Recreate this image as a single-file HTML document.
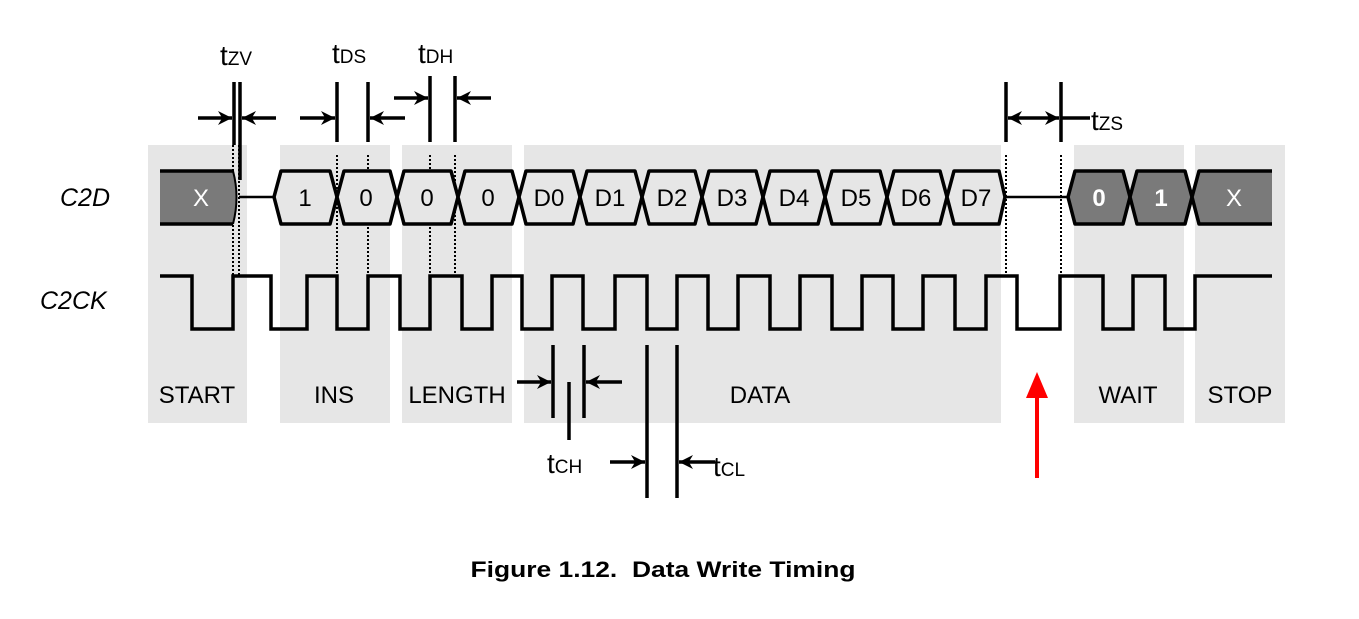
<!DOCTYPE html>
<html><head><meta charset="utf-8"><style>
html,body{margin:0;padding:0;background:#fff;}
svg{display:block;font-family:"Liberation Sans",Arial,sans-serif;}
</style></head><body>
<svg width="1359" height="619" viewBox="0 0 1359 619" xmlns="http://www.w3.org/2000/svg">
<defs>
<marker id="ah" viewBox="0 0 10 10" refX="10" refY="5" markerWidth="4" markerHeight="4" orient="auto-start-reverse" markerUnits="strokeWidth"><path d="M0,0 L10,5 L0,10 L3,5 z" fill="#000"/></marker>
</defs>
<!-- grey regions -->
<g fill="#e6e6e6">
<rect x="148" y="145" width="99" height="278"/>
<rect x="280" y="145" width="110" height="278"/>
<rect x="402" y="145" width="110" height="278"/>
<rect x="524" y="145" width="477" height="278"/>
<rect x="1074" y="145" width="110" height="278"/>
<rect x="1195" y="145" width="90" height="278"/>
</g>
<!-- dotted lines -->
<g stroke="#000" stroke-width="2" stroke-dasharray="2,2">
<line x1="233" y1="145" x2="233" y2="276"/><line x1="239" y1="145" x2="239" y2="276"/>
<line x1="337" y1="155" x2="337" y2="276"/><line x1="368" y1="155" x2="368" y2="276"/>
<line x1="430" y1="155" x2="430" y2="276"/><line x1="455" y1="155" x2="455" y2="276"/>
<line x1="1006" y1="155" x2="1006" y2="276"/><line x1="1061" y1="155" x2="1061" y2="276"/>
</g>
<!-- C2D bus -->
<g stroke="#000" stroke-width="3.5" stroke-linejoin="round">
<path d="M160,171 L233,171 Q240,197 233,224 L160,224" fill="#7a7a7a" stroke="none"/>
<line x1="160" y1="171" x2="233" y2="171"/><line x1="160" y1="224" x2="233" y2="224"/>
<path d="M233,171 Q240,197 233,224" fill="none" stroke-width="2"/>
<line x1="239" y1="197" x2="274" y2="197" stroke-width="2.5"/>
<path d="M274,197 L281,171 L330,171 L337,197 L330,224 L281,224 Z" fill="#e6e6e6"/>
<path d="M337,197 L344,171 L390,171 L397,197 L390,224 L344,224 Z" fill="#e6e6e6"/>
<path d="M397,197 L404,171 L451,171 L458,197 L451,224 L404,224 Z" fill="#e6e6e6"/>
<path d="M458,197 L465,171 L512,171 L519,197 L512,224 L465,224 Z" fill="#e6e6e6"/>
<path d="M519,197 L526,171 L573,171 L580,197 L573,224 L526,224 Z" fill="#e6e6e6"/>
<path d="M580,197 L587,171 L635,171 L642,197 L635,224 L587,224 Z" fill="#e6e6e6"/>
<path d="M642,197 L649,171 L695,171 L702,197 L695,224 L649,224 Z" fill="#e6e6e6"/>
<path d="M702,197 L709,171 L756,171 L763,197 L756,224 L709,224 Z" fill="#e6e6e6"/>
<path d="M763,197 L770,171 L818,171 L825,197 L818,224 L770,224 Z" fill="#e6e6e6"/>
<path d="M825,197 L832,171 L880,171 L887,197 L880,224 L832,224 Z" fill="#e6e6e6"/>
<path d="M887,197 L894,171 L940,171 L947,197 L940,224 L894,224 Z" fill="#e6e6e6"/>
<path d="M947,197 L954,171 L999,171 L1005,197 L999,224 L954,224 Z" fill="#e6e6e6"/>
<line x1="1005" y1="197" x2="1068" y2="197" stroke-width="2.5"/>
<path d="M1068,197 L1075,171 L1123,171 L1130,197 L1123,224 L1075,224 Z" fill="#7a7a7a"/>
<path d="M1130,197 L1137,171 L1185,171 L1192,197 L1185,224 L1137,224 Z" fill="#7a7a7a"/>
<path d="M1192,197 L1199,171 L1272,171 L1272,224 L1199,224 Z" fill="#7a7a7a" stroke="none"/>
<path d="M1272,171 L1199,171 L1192,197 L1199,224 L1272,224" fill="none"/>
</g>
<g font-size="24" text-anchor="middle" fill="#000">
<text x="201" y="206" fill="#fff">X</text>
<text x="305" y="206">1</text>
<text x="366" y="206">0</text>
<text x="427" y="206">0</text>
<text x="488" y="206">0</text>
<text x="549" y="206">D0</text>
<text x="610" y="206">D1</text>
<text x="672" y="206">D2</text>
<text x="732" y="206">D3</text>
<text x="794" y="206">D4</text>
<text x="856" y="206">D5</text>
<text x="916" y="206">D6</text>
<text x="976" y="206">D7</text>
<text x="1099" y="206" fill="#fff" font-weight="bold">0</text>
<text x="1161" y="206" fill="#fff" font-weight="bold">1</text>
<text x="1234" y="206" fill="#fff">X</text>
</g>
<!-- clock -->
<path d="M160,276 H192 V329 H233 V276 H271 V329 H307 V276 H337 V329 H368 V276 H400 V329 H430 V276 H462 V329 H492 V276 H522 V329 H552 V276 H583 V329 H615 V276 H647 V329 H677 V276 H708 V329 H738 V276 H770 V329 H800 V276 H832 V329 H862 V276 H893 V329 H923 V276 H955 V329 H986 V276 H1017 V329 H1060 V276 H1103 V329 H1133 V276 H1165 V329 H1195 V276 H1272" fill="none" stroke="#000" stroke-width="3.5"/>
<!-- labels -->
<g font-size="25" font-style="italic">
<text x="60" y="206">C2D</text>
<text x="40" y="309">C2CK</text>
</g>
<g font-size="24" text-anchor="middle">
<text x="197" y="403">START</text>
<text x="334" y="403">INS</text>
<text x="457" y="403">LENGTH</text>
<text x="760" y="403">DATA</text>
<text x="1128" y="403">WAIT</text>
<text x="1240" y="403">STOP</text>
</g>
<!-- timing markers -->
<g stroke="#000" stroke-width="3.5">
<line x1="234" y1="82" x2="234" y2="145"/><line x1="240" y1="82" x2="240" y2="180"/>
<line x1="337" y1="82" x2="337" y2="142"/><line x1="368" y1="82" x2="368" y2="142"/>
<line x1="430" y1="76" x2="430" y2="142"/><line x1="455" y1="76" x2="455" y2="142"/>
<line x1="1006" y1="82" x2="1006" y2="142"/><line x1="1061" y1="82" x2="1061" y2="142"/>
<line x1="553" y1="345" x2="553" y2="418"/><line x1="584" y1="345" x2="584" y2="418"/>
<line x1="569" y1="382" x2="569" y2="440"/>
<line x1="647" y1="345" x2="647" y2="498"/><line x1="677" y1="345" x2="677" y2="498"/>
<line x1="1061" y1="118" x2="1090" y2="118"/>
</g>
<g stroke="#000" stroke-width="3.5" marker-end="url(#ah)">
<line x1="198" y1="118" x2="232" y2="118"/><line x1="276" y1="118" x2="242" y2="118"/>
<line x1="300" y1="118" x2="335" y2="118"/><line x1="405" y1="118" x2="370" y2="118"/>
<line x1="394" y1="98" x2="428" y2="98"/><line x1="491" y1="98" x2="457" y2="98"/>
<line x1="517" y1="382" x2="551" y2="382"/><line x1="622" y1="382" x2="586" y2="382"/>
<line x1="610" y1="462" x2="645" y2="462"/><line x1="715" y1="462" x2="679" y2="462"/>
<line x1="1008" y1="118" x2="1059" y2="118" marker-start="url(#ah)"/>
</g>
<g font-size="28">
<text x="220" y="65">t<tspan font-size="19">ZV</tspan></text>
<text x="332" y="63">t<tspan font-size="19">DS</tspan></text>
<text x="418" y="63">t<tspan font-size="19">DH</tspan></text>
<text x="1091" y="130">t<tspan font-size="19">ZS</tspan></text>
<text x="547" y="473">t<tspan font-size="19">CH</tspan></text>
<text x="713" y="476">t<tspan font-size="19">CL</tspan></text>
</g>
<!-- red arrow -->
<line x1="1037" y1="478" x2="1037" y2="396" stroke="#f00" stroke-width="4"/>
<path d="M1026,398 L1037,372 L1048,398 Z" fill="#f00"/>
<text x="663" y="577" font-size="22" font-weight="bold" text-anchor="middle" textLength="385" lengthAdjust="spacingAndGlyphs" xml:space="preserve">Figure 1.12.  Data Write Timing</text>
</svg>
</body></html>
